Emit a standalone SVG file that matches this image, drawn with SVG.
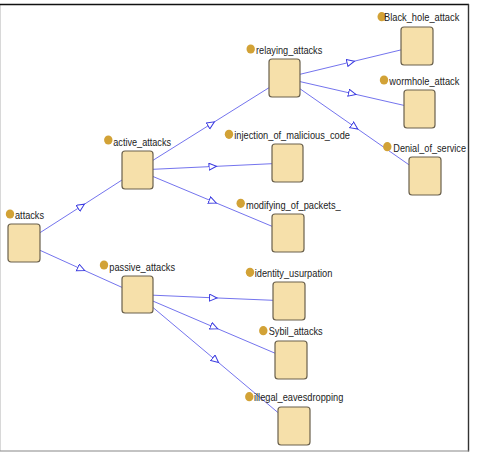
<svg xmlns="http://www.w3.org/2000/svg" width="482" height="452" viewBox="0 0 482 452">
<defs>
<style>
.box{fill:#f6e0aa;stroke:#6a604c;stroke-width:1.2}
.dot{fill:#d2a236}
.lbl{font-family:"Liberation Sans",Arial,sans-serif;font-size:11px;fill:#222}
.edge{fill:none;stroke:#7474ee;stroke-width:1;marker-mid:url(#arr)}
</style>
<marker id="arr" markerUnits="userSpaceOnUse" markerWidth="10" markerHeight="10" refX="4" refY="4" orient="auto">
<path d="M0.5,0.5 L8,4 L0.5,7.5 z" fill="#fff" stroke="#3a3ae0" stroke-width="1"/>
</marker>
</defs>
<rect x="0" y="0" width="482" height="452" fill="#fff"/>
<g id="frame">
<line x1="0.5" y1="4.5" x2="0.5" y2="451" stroke="#d8d8d8" stroke-width="1"/>
<line x1="0" y1="4.5" x2="469" y2="4.5" stroke="#111" stroke-width="1.4"/>
<line x1="468.5" y1="4" x2="468.5" y2="451.5" stroke="#333" stroke-width="1.4"/>
<line x1="0" y1="451" x2="469" y2="451" stroke="#888" stroke-width="1.2"/>
</g>
<g id="connectors">
<path class="edge" d="M40,232.7 L81,206.4 L122,180"/>
<path class="edge" d="M40,250.3 L81,268.9 L122,287.4"/>
<path class="edge" d="M153,160.3 L211,124 L269,87.7"/>
<path class="edge" d="M153,169.3 L212.5,166.5 L272,163.7"/>
<path class="edge" d="M153,176.5 L212.5,201.4 L272,226.3"/>
<path class="edge" d="M300,74.3 L350.5,62.1 L401,49.9"/>
<path class="edge" d="M300,81.6 L352,93.5 L404,105.4"/>
<path class="edge" d="M300,88.8 L354.5,126.8 L409,164.8"/>
<path class="edge" d="M153,295.2 L213,297.8 L273,300.3"/>
<path class="edge" d="M153,301.1 L214,327.2 L275,353.2"/>
<path class="edge" d="M153,307.5 L215.5,360 L278,412.6"/>
</g>
<g id="attacks">
<rect class="box" x="8" y="224" width="32" height="38" rx="3"/>
<ellipse class="dot" cx="10" cy="214" rx="4.2" ry="4.6"/>
<text class="lbl" x="15" y="218.5" textLength="29" lengthAdjust="spacingAndGlyphs">attacks</text>
</g>
<g id="active_attacks">
<rect class="box" x="122" y="151" width="31" height="38" rx="3"/>
<ellipse class="dot" cx="108.3" cy="140" rx="4.2" ry="4.6"/>
<text class="lbl" x="113.3" y="145.5" textLength="57.7" lengthAdjust="spacingAndGlyphs">active_attacks</text>
</g>
<g id="passive_attacks">
<rect class="box" x="122" y="276" width="31" height="37" rx="3"/>
<ellipse class="dot" cx="104" cy="265" rx="4.2" ry="4.6"/>
<text class="lbl" x="109.3" y="270.5" textLength="65.7" lengthAdjust="spacingAndGlyphs">passive_attacks</text>
</g>
<g id="relaying_attacks">
<rect class="box" x="269" y="59" width="31" height="38" rx="3"/>
<ellipse class="dot" cx="250.7" cy="49" rx="4.2" ry="4.6"/>
<text class="lbl" x="256" y="54.3" textLength="66.3" lengthAdjust="spacingAndGlyphs">relaying_attacks</text>
</g>
<g id="Black_hole_attack">
<rect class="box" x="401" y="27" width="32" height="38" rx="3"/>
<ellipse class="dot" cx="381.7" cy="16.7" rx="4.2" ry="4.6"/>
<text class="lbl" x="384" y="21.3" textLength="75.3" lengthAdjust="spacingAndGlyphs">Black_hole_attack</text>
</g>
<g id="wormhole_attack">
<rect class="box" x="404" y="90" width="31" height="38" rx="3"/>
<ellipse class="dot" cx="384" cy="80" rx="4.2" ry="4.6"/>
<text class="lbl" x="389.3" y="85" textLength="70" lengthAdjust="spacingAndGlyphs">wormhole_attack</text>
</g>
<g id="Denial_of_service">
<rect class="box" x="409" y="157" width="32" height="38" rx="3"/>
<ellipse class="dot" cx="387.3" cy="146.7" rx="4.2" ry="4.6"/>
<text class="lbl" x="393.3" y="151.7" textLength="72.7" lengthAdjust="spacingAndGlyphs">Denial_of_service</text>
</g>
<g id="injection_of_malicious_code">
<rect class="box" x="272" y="144" width="31" height="38" rx="3"/>
<ellipse class="dot" cx="229" cy="134.3" rx="4.2" ry="4.6"/>
<text class="lbl" x="234.3" y="139.3" textLength="115.7" lengthAdjust="spacingAndGlyphs">injection_of_malicious_code</text>
</g>
<g id="modifying_of_packets_">
<rect class="box" x="272" y="214" width="32" height="38" rx="3"/>
<ellipse class="dot" cx="240.7" cy="203.3" rx="4.2" ry="4.6"/>
<text class="lbl" x="246" y="209.3" textLength="94.7" lengthAdjust="spacingAndGlyphs">modifying_of_packets_</text>
</g>
<g id="identity_usurpation">
<rect class="box" x="273" y="282" width="32" height="38" rx="3"/>
<ellipse class="dot" cx="250" cy="272.3" rx="4.2" ry="4.6"/>
<text class="lbl" x="254.7" y="277.3" textLength="77.6" lengthAdjust="spacingAndGlyphs">identity_usurpation</text>
</g>
<g id="Sybil_attacks">
<rect class="box" x="275" y="341" width="32" height="38" rx="3"/>
<ellipse class="dot" cx="263.3" cy="330.7" rx="4.2" ry="4.6"/>
<text class="lbl" x="268.7" y="335.3" textLength="54" lengthAdjust="spacingAndGlyphs">Sybil_attacks</text>
</g>
<g id="illegal_eavesdropping">
<rect class="box" x="278" y="407" width="32" height="38" rx="3"/>
<ellipse class="dot" cx="249.3" cy="396.7" rx="4.2" ry="4.6"/>
<text class="lbl" x="254" y="401.3" textLength="89.3" lengthAdjust="spacingAndGlyphs">illegal_eavesdropping</text>
</g>
</svg>
